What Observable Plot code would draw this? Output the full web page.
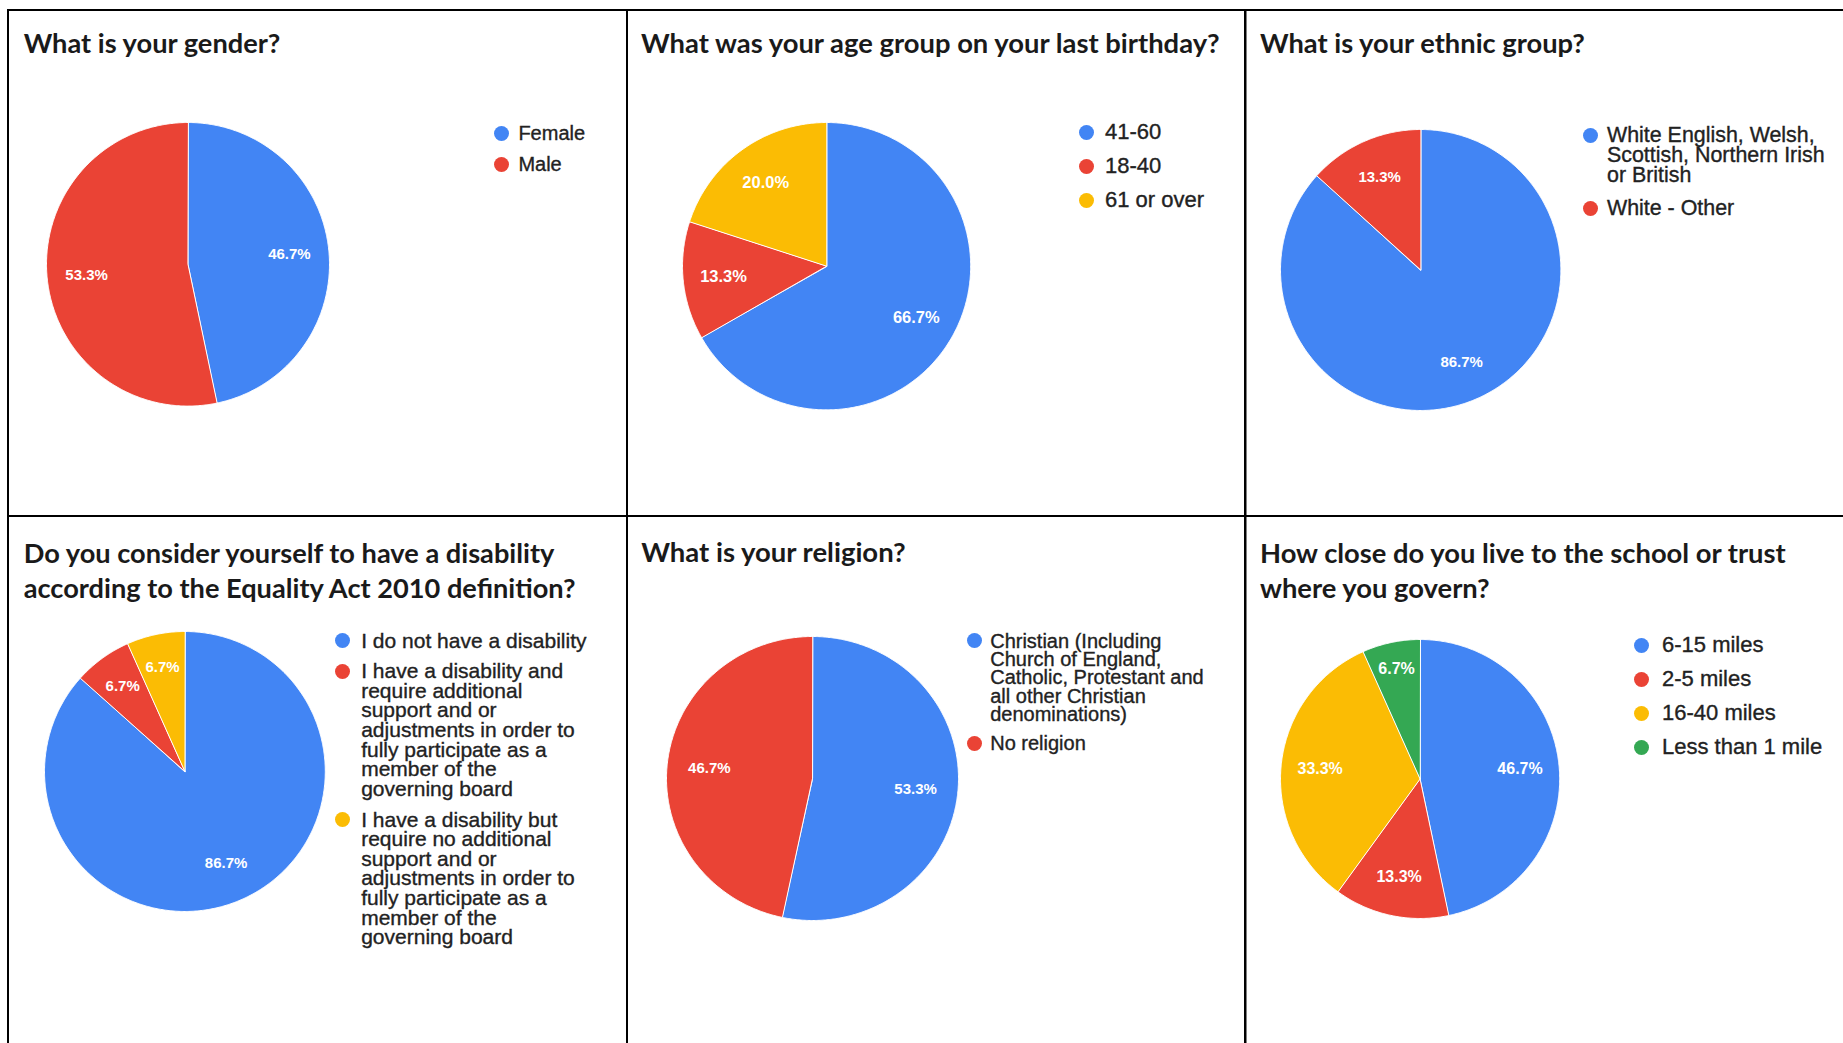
<!DOCTYPE html>
<html>
<head>
<meta charset="utf-8">
<script src="https://cdn.jsdelivr.net/npm/d3@7"></script>
<script src="https://cdn.jsdelivr.net/npm/@observablehq/plot@0.6"></script>
<style>
html, body { margin: 0; padding: 0; background: #fff; }
#page { position: relative; width: 1843px; height: 1043px; overflow: hidden; background: #fff; }
.legend { position: absolute; font-family: "Liberation Sans", Arial, sans-serif; color: #222; -webkit-text-stroke: 0.35px #222; }
.item { position: relative; box-sizing: content-box; }
.dot { position: absolute; left: 0; width: 15px; height: 15px; border-radius: 50%; }
.pie { position: absolute; }
</style>
</head>
<body>
<div id="page"></div>
<script>
// ---------------- data ----------------
const palette = ["#4285f4", "#ea4335", "#fbbc04", "#34a853"];

const genderTitle = ["What is your gender?"];
const genderCats = ["Female", "Male"];
const genderVals = [46.7, 53.3];

const ageTitle = ["What was your age group on your last birthday?"];
const ageCats = ["41-60", "18-40", "61 or over"];
const ageVals = [66.7, 13.3, 20.0];

const ethnicTitle = ["What is your ethnic group?"];
const ethnicCats = ["White English, Welsh, Scottish, Northern Irish or British", "White - Other"];
const ethnicVals = [86.7, 13.3];

const disabilityTitle = ["Do you consider yourself to have a disability", "according to the Equality Act 2010 definition?"];
const disabilityCats = [
  "I do not have a disability",
  "I have a disability and require additional support and or adjustments in order to fully participate as a member of the governing board",
  "I have a disability but require no additional support and or adjustments in order to fully participate as a member of the governing board"
];
const disabilityVals = [86.7, 6.7, 6.7];

const religionTitle = ["What is your religion?"];
const religionCats = ["Christian (Including Church of England, Catholic, Protestant and all other Christian denominations)", "No religion"];
const religionVals = [53.3, 46.7];

const distanceTitle = ["How close do you live to the school or trust", "where you govern?"];
const distanceCats = ["6-15 miles", "2-5 miles", "16-40 miles", "Less than 1 mile"];
const distanceVals = [46.7, 13.3, 33.3, 6.7];

// ---------------- layout (styles only) ----------------
const panels = [
  {title: genderTitle, cats: genderCats, vals: genderVals,
   tx: 23.7, tb: [53], tw: [258],
   cx: 187.3, cy: 264.2, rx: 141.5, ry: 141.8, ls: 15,
   dotX: 501, textX: 518.4, fs: 20, y0: 133.3, L: 24, gap: 31.2, wrap: 300},
  {title: ageTitle, cats: ageCats, vals: ageVals,
   tx: 641, tb: [53], tw: [582],
   cx: 826.1, cy: 265.3, rx: 144.1, ry: 143.7, ls: 16.5,
   dotX: 1086.6, textX: 1105, fs: 22, y0: 132.3, L: 24, gap: 34, wrap: 300},
  {title: ethnicTitle, cats: ethnicCats, vals: ethnicVals,
   tx: 1260, tb: [53], tw: [326],
   cx: 1419.8, cy: 269.5, rx: 140.2, ry: 140.5, ls: 15,
   dotX: 1590, textX: 1607, fs: 21.4, y0: 135, L: 20, gap: 33, wrap: 230},
  {title: disabilityTitle, cats: disabilityCats, vals: disabilityVals,
   tx: 23.7, tb: [563.4, 597.8], tw: [534.7, 552],
   cx: 184, cy: 771, rx: 140.4, ry: 140, ls: 15,
   dotX: 342.9, textX: 361.2, fs: 21, y0: 640.3, L: 19.6, gap: 30.8, wrap: 229},
  {title: religionTitle, cats: religionCats, vals: religionVals,
   tx: 641.2, tb: [561.7], tw: [265.7],
   cx: 812, cy: 778, rx: 146, ry: 142, ls: 15,
   dotX: 974, textX: 990.2, fs: 20, y0: 641, L: 18.2, gap: 29.7, wrap: 225},
  {title: distanceTitle, cats: distanceCats, vals: distanceVals,
   tx: 1260, tb: [562.7, 597.8], tw: [524, 232],
   cx: 1419.6, cy: 778, rx: 139.6, ry: 139.5, ls: 16,
   dotX: 1641.5, textX: 1662, fs: 22, y0: 645, L: 24, gap: 34, wrap: 300}
];

const page = document.getElementById("page");
const canvas = document.createElement("canvas");
const ctx = canvas.getContext("2d");
const NS = "http://www.w3.org/2000/svg";

// ---------------- frame + titles overlay ----------------
const overlay = document.createElementNS(NS, "svg");
overlay.setAttribute("width", 1843);
overlay.setAttribute("height", 1043);
overlay.style.position = "absolute";
overlay.style.left = "0px";
overlay.style.top = "0px";
page.appendChild(overlay);

function rect(x, y, w, h) {
  const r = document.createElementNS(NS, "rect");
  r.setAttribute("x", x); r.setAttribute("y", y);
  r.setAttribute("width", w); r.setAttribute("height", h);
  r.setAttribute("fill", "#000");
  overlay.appendChild(r);
}
rect(7, 9, 1843, 2);      // top
rect(7, 515, 1843, 2);    // middle
rect(7, 9, 2, 1043);      // left
rect(626, 9, 2, 1043);    // divider 1
rect(1244, 9, 2.5, 1043); // divider 2

const titleFont = "Lato, 'Open Sans', sans-serif";
panels.forEach(p => {
  ctx.font = "bold 100px Lato";
  const sizes = p.title.map((line, i) => 100 * p.tw[i] / ctx.measureText(line).width);
  const fsz = d3.mean(sizes);
  p.title.forEach((line, i) => {
    const t = document.createElementNS(NS, "text");
    t.setAttribute("x", p.tx);
    t.setAttribute("y", p.tb[i]);
    t.setAttribute("font-family", titleFont);
    t.setAttribute("font-weight", "700");
    t.setAttribute("font-size", fsz.toFixed(2));
    t.setAttribute("fill", "#1a1a1a");
    t.textContent = line;
    overlay.appendChild(t);
  });
});

// ---------------- pies ----------------
function buildPie(p) {
  const total = d3.sum(p.vals);
  const polys = [], labels = [];
  const r = (p.rx + p.ry) / 2;
  ctx.font = `bold ${p.ls}px "Liberation Sans"`;
  let acc = 0;
  p.cats.forEach((c, i) => {
    const a0 = acc / total * 2 * Math.PI;
    acc += p.vals[i];
    const a1 = acc / total * 2 * Math.PI;
    polys.push({cat: c, x: 0, y: 0});
    const n = Math.max(2, Math.ceil((a1 - a0) / (Math.PI / 360)));
    for (let k = 0; k <= n; k++) {
      const a = a0 + (a1 - a0) * k / n;
      polys.push({cat: c, x: Math.sin(a), y: Math.cos(a)});
    }
    const text = p.vals[i].toFixed(1) + "%";
    const mid = (a0 + a1) / 2, half = (a1 - a0) / 2;
    const hw = ctx.measureText(text).width / 2, hh = 0.36 * p.ls;
    let d = 0.72 * r;
    if (half < Math.PI / 2) {
      const e = hw * Math.abs(Math.cos(mid)) + hh * Math.abs(Math.sin(mid));
      const along = hw * Math.abs(Math.sin(mid)) + hh * Math.abs(Math.cos(mid));
      d = Math.max(d, (e + 4) / Math.tan(half) + along / 2);
    }
    labels.push({cat: c, text, lx: d / p.rx * Math.sin(mid), ly: d / p.ry * Math.cos(mid)});
  });

  const m = 2;
  const svg = Plot.plot({
    width: 2 * p.rx + 2 * m,
    height: 2 * p.ry + 2 * m,
    margin: m,
    style: {background: "transparent", overflow: "visible"},
    x: {domain: [-1, 1], axis: null},
    y: {domain: [-1, 1], axis: null},
    color: {domain: p.cats, range: palette.slice(0, p.cats.length)},
    marks: [
      Plot.line(polys, {x: "x", y: "y", z: "cat", fill: "cat", stroke: "#ffffff", strokeWidth: 1, curve: "linear-closed"}),
      Plot.text(labels, {x: "lx", y: "ly", text: "text", fill: "white", fontSize: p.ls, fontWeight: "bold",
        fontFamily: "'Liberation Sans', Arial, sans-serif"})
    ]
  });
  svg.classList.add("pie");
  svg.style.left = (p.cx - p.rx - m) + "px";
  svg.style.top = (p.cy - p.ry - m) + "px";
  svg.style.maxWidth = "none";
  page.appendChild(svg);
}

// ---------------- legends ----------------
function buildLegend(p) {
  const div = document.createElement("div");
  div.className = "legend";
  div.style.left = (p.dotX - 7.5) + "px";
  div.style.top = (p.y0 - p.L / 2) + "px";
  div.style.fontSize = p.fs + "px";
  div.style.lineHeight = p.L + "px";
  p.cats.forEach((c, i) => {
    const item = document.createElement("div");
    item.className = "item";
    item.style.paddingLeft = (p.textX - (p.dotX - 7.5)) + "px";
    item.style.width = p.wrap + "px";
    item.style.marginBottom = (p.gap - p.L) + "px";
    const dot = document.createElement("span");
    dot.className = "dot";
    dot.style.top = (p.L / 2 - 7.5) + "px";
    dot.style.background = palette[i];
    item.appendChild(dot);
    item.appendChild(document.createTextNode(c));
    div.appendChild(item);
  });
  page.appendChild(div);
}

panels.forEach(p => { buildPie(p); buildLegend(p); });
</script>
</body>
</html>
